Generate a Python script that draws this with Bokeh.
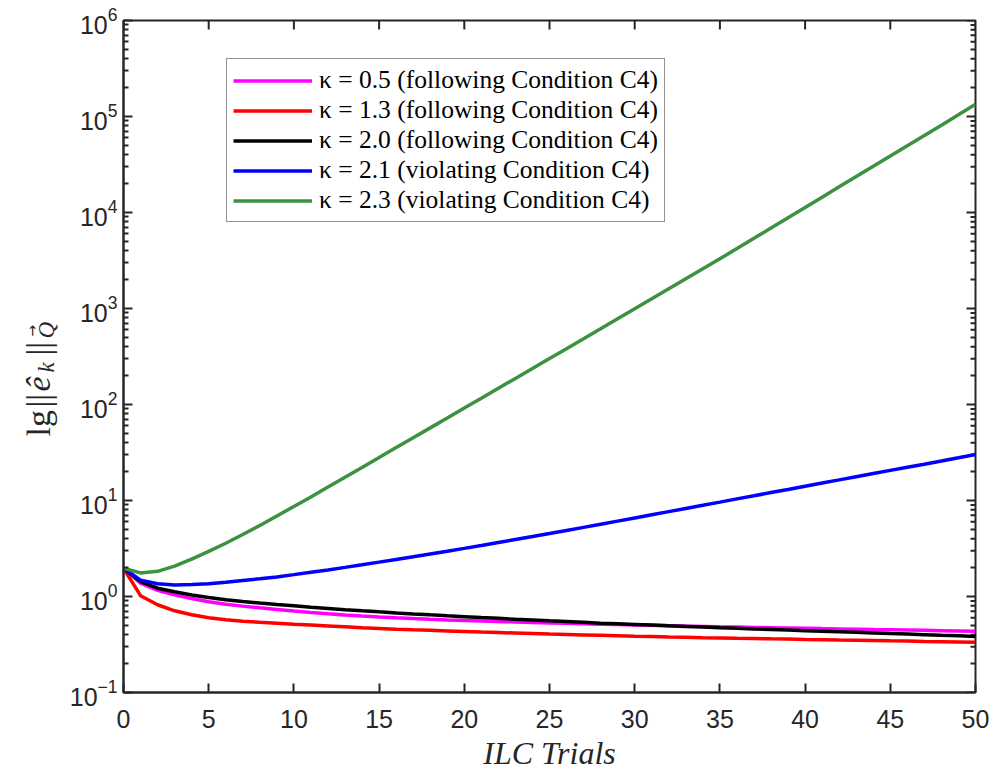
import numpy as np
from bokeh.plotting import figure
from bokeh.layouts import row
from bokeh.models import (FixedTicker, Legend, LegendItem, Range1d)
from bokeh.core.properties import value
from bokeh.embed import file_html
from bokeh.resources import INLINE

# ---------------- data ----------------
trials = list(range(51))

kappa_05 = [1.97, 1.38, 1.16, 1.04, 0.951, 0.881, 0.832, 0.794, 0.762, 0.733,
            0.705, 0.681, 0.661, 0.643, 0.627, 0.612, 0.600, 0.589, 0.579, 0.570,
            0.562, 0.555, 0.548, 0.542, 0.536, 0.530, 0.525, 0.520, 0.515, 0.511,
            0.506, 0.501, 0.497, 0.492, 0.488, 0.483, 0.480, 0.476, 0.473, 0.470,
            0.467, 0.463, 0.460, 0.457, 0.453, 0.450, 0.447, 0.444, 0.441, 0.438,
            0.435]

kappa_13 = [1.97, 1.02, 0.82, 0.71, 0.645, 0.600, 0.573, 0.553, 0.538, 0.527,
            0.515, 0.505, 0.494, 0.483, 0.472, 0.465, 0.457, 0.450, 0.444, 0.438,
            0.432, 0.426, 0.421, 0.416, 0.411, 0.406, 0.402, 0.398, 0.394, 0.390,
            0.386, 0.383, 0.379, 0.376, 0.372, 0.370, 0.367, 0.365, 0.362, 0.360,
            0.357, 0.355, 0.352, 0.350, 0.348, 0.345, 0.343, 0.340, 0.338, 0.336,
            0.334]

kappa_20 = [1.97, 1.43, 1.22, 1.12, 1.035, 0.975, 0.927, 0.887, 0.855, 0.826,
            0.800, 0.774, 0.752, 0.729, 0.710, 0.692, 0.675, 0.659, 0.644, 0.630,
            0.617, 0.604, 0.592, 0.579, 0.569, 0.558, 0.548, 0.538, 0.528, 0.520,
            0.512, 0.504, 0.495, 0.488, 0.480, 0.472, 0.466, 0.459, 0.453, 0.447,
            0.441, 0.435, 0.429, 0.423, 0.417, 0.411, 0.406, 0.400, 0.394, 0.389,
            0.384]

kappa_21 = [1.97, 1.48, 1.36, 1.32, 1.33, 1.36, 1.41, 1.47, 1.53, 1.60,
            1.69, 1.79, 1.89, 2.01, 2.14, 2.28, 2.43, 2.59, 2.77, 2.96,
            3.17, 3.40, 3.65, 3.92, 4.21, 4.53, 4.88, 5.25, 5.65, 6.10,
            6.58, 7.10, 7.66, 8.26, 8.91, 9.62, 10.4, 11.2, 12.1, 13.0,
            14.1, 15.2, 16.4, 17.7, 19.1, 20.6, 22.2, 23.9, 25.8, 27.9,
            30.2]

kappa_23 = [1.97, 1.76, 1.83, 2.07, 2.45, 2.95, 3.59, 4.42, 5.50, 6.89,
            8.67, 10.9, 13.8, 17.5, 22.1, 28.1, 35.6, 45.1, 57.1, 72.4,
            91.8, 116, 148, 187, 237, 301, 381, 484, 615, 782,
            993, 1262, 1603, 2037, 2588, 3289, 4207, 5383, 6887, 8810,
            11272, 14454, 18493, 23659, 30269, 38726, 49659, 63533, 81283, 104232,
            133968]

series_labels = ["\u03ba = 0.5 (following Condition C4)",
                 "\u03ba = 1.3 (following Condition C4)",
                 "\u03ba = 2.0 (following Condition C4)",
                 "\u03ba = 2.1 (violating Condition C4)",
                 "\u03ba = 2.3 (violating Condition C4)"]
series_colors = ["#FF00FF", "#FF0000", "#000000", "#0000FF", "#3C923F"]

x_ticks = [0, 5, 10, 15, 20, 25, 30, 35, 40, 45, 50]
y_exponents = [-1, 0, 1, 2, 3, 4, 5, 6]

x_title = "ILC Trials"

# ---------------- main figure ----------------
AX = "#262626"
FW, FH = 852, 672
X0, X1 = 0, 50
Y0, Y1 = 0.1, 1e6
LEFT_W = 60        # width of the strip that holds the y-axis title
p = figure(frame_width=FW, frame_height=FH,
           min_border_left=123 - LEFT_W, min_border_right=18,
           min_border_top=20, min_border_bottom=83,
           x_range=Range1d(X0, X1), y_range=Range1d(Y0, Y1),
           y_axis_type="log", output_backend="svg", toolbar_location=None,
           background_fill_color="white", border_fill_color="white")

p.xgrid.visible = False
p.ygrid.visible = False
p.outline_line_color = AX
p.outline_line_width = 2

y_major = [10.0 ** e for e in y_exponents]
y_minor = [m * 10.0 ** e for e in y_exponents[:-1] for m in range(2, 10)]

MAJ, MIN = 9, 5


def style_axis(ax):
    ax.axis_line_color = AX
    ax.axis_line_width = 2
    ax.major_tick_line_color = AX
    ax.major_tick_line_width = 2
    ax.major_tick_in = MAJ
    ax.major_tick_out = 0
    ax.minor_tick_line_color = AX
    ax.minor_tick_line_width = 2
    ax.minor_tick_in = MIN
    ax.minor_tick_out = 0
    ax.major_label_text_font = "Liberation Sans"
    ax.major_label_text_color = AX
    ax.major_label_text_font_size = "25px"


xa = p.xaxis[0]
xa.ticker = FixedTicker(ticks=x_ticks)
style_axis(xa)
xa.minor_tick_line_color = None
xa.major_label_standoff = 17
xa.axis_label = x_title
xa.axis_label_text_font = "Liberation Serif"
xa.axis_label_text_font_style = "italic"
xa.axis_label_text_font_size = "32px"
xa.axis_label_text_color = AX
xa.axis_label_standoff = 4

ya = p.yaxis[0]
ya.ticker = FixedTicker(ticks=y_major, minor_ticks=y_minor)
style_axis(ya)
ya.major_label_standoff = 6

# mirrored ticks on the top and right edges of the box (no labels)
px_x = (X1 - X0) / FW
dec_per_px = np.log10(Y1 / Y0) / FH
p.segment(x0=x_ticks, y0=[Y1] * len(x_ticks),
          x1=x_ticks, y1=[Y1 / 10 ** (MAJ * dec_per_px)] * len(x_ticks),
          line_color=AX, line_width=2)
p.segment(x0=[X1] * len(y_major), y0=y_major,
          x1=[X1 - MAJ * px_x] * len(y_major), y1=y_major,
          line_color=AX, line_width=2)
p.segment(x0=[X1] * len(y_minor), y0=y_minor,
          x1=[X1 - MIN * px_x] * len(y_minor), y1=y_minor,
          line_color=AX, line_width=2)

# ---------------- lines ----------------
items = []
for vals, lab, col in zip([kappa_05, kappa_13, kappa_20, kappa_21, kappa_23],
                          series_labels, series_colors):
    r = p.line(trials, vals, line_color=col, line_width=3.5)
    items.append(LegendItem(label=lab, renderers=[r]))

legend = Legend(items=items, location=(103, 470),
                label_text_font="Liberation Serif", label_text_font_size="25.5px",
                label_text_color="black",
                glyph_width=79, glyph_height=29, label_height=29,
                label_standoff=7, spacing=0, padding=6, margin=0,
                border_line_color=AX, border_line_width=1.5,
                background_fill_color="white", background_fill_alpha=1.0)
p.add_layout(legend, "center")

# ---------------- y-axis title strip ----------------
H = 775
lab = figure(frame_width=LEFT_W, frame_height=H, min_border=0,
             x_range=Range1d(0, LEFT_W), y_range=Range1d(0, H),
             x_axis_location=None, y_axis_location=None,
             output_backend="svg", toolbar_location=None,
             background_fill_color="white", border_fill_color="white")
lab.outline_line_color = None
lab.xgrid.visible = False
lab.ygrid.visible = False

F_MAIN, F_SUB = "34px", "23px"
BASE, SUB = 38, 46            # baselines (page x) of main text and subscripts
# (text, italic?, size, baseline x, start y on page)
ylab = [("lg", False, F_MAIN, BASE, 416),
        ("||", False, F_MAIN, BASE, 387),
        ("\u00ea", True, F_MAIN, BASE, 371),
        ("k", True, F_SUB, SUB, 352),
        ("||", False, F_MAIN, BASE, 335),
        ("Q", True, F_SUB, SUB, 318)]
for txt, ital, size, bx, sy in ylab:
    lab.text(x=[bx], y=[H - sy], text=[txt], angle=np.pi / 2,
             text_font=value("Liberation Serif"),
             text_font_style="italic" if ital else "normal",
             text_font_size=value(size), text_color=AX,
             text_align="left", text_baseline="alphabetic")
lab.text(x=[31], y=[H - 316], text=["\u2192"], angle=np.pi / 2,
         text_font=value("DejaVu Sans"), text_font_size=value("14px"),
         text_color=AX, text_align="left", text_baseline="alphabetic")

layout = row(lab, p, spacing=0)
open("out.html", "w").write(file_html(layout, INLINE))
